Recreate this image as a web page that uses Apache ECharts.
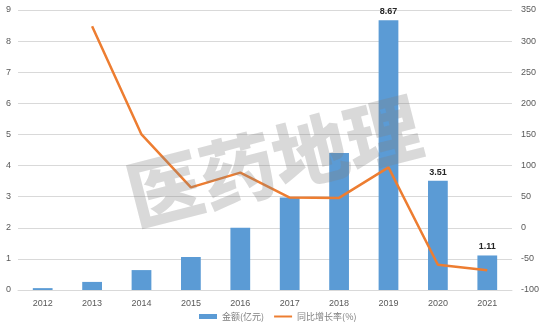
<!DOCTYPE html>
<html>
<head>
<meta charset="utf-8">
<script src="https://cdn.jsdelivr.net/npm/echarts@6/dist/echarts.min.js"></script>
<style>html,body{margin:0;padding:0;background:#fff}#chart{width:542px;height:334px}</style>
</head>
<body>
<div id="chart"></div>
<script>
const years = ['2012','2013','2014','2015','2016','2017','2018','2019','2020','2021'];
const amount = [0.06, 0.26, 0.64, 1.06, 2.0, 2.97, 4.40, 8.67, 3.51, 1.11];
const growth = [null, 324, 150, 65, 88.6, 48.5, 48, 97, -59.5, -68.4];
const labeledYears = ['2019','2020','2021'];

const chart = echarts.init(document.getElementById('chart'), null, {renderer: 'canvas'});
const axisText = {color: '#595959', fontSize: 9, fontFamily: 'Liberation Sans, Arial, sans-serif'};

chart.setOption({
  animation: false,
  grid: {left: 18, right: 30, top: 10, bottom: 44, containLabel: false},
  legend: {
    bottom: 8, left: 194, itemGap: 10, itemHeight: 5, itemWidth: 18,
    textStyle: {color: '#7f7f7f', fontSize: 9, fontFamily: 'Noto Sans CJK SC'},
    data: [
      {name: '金额(亿元)', icon: 'rect'},
      {name: '同比增长率(%)', icon: 'path://M0,0h20v2.2h-20z'}
    ]
  },
  xAxis: {
    type: 'category', data: years,
    axisLine: {lineStyle: {color: '#d9d9d9'}},
    axisTick: {show: false},
    axisLabel: Object.assign({margin: 9}, axisText)
  },
  yAxis: [{
    type: 'value', min: 0, max: 9, interval: 1,
    axisLine: {show: false}, axisTick: {show: false},
    splitLine: {lineStyle: {color: '#d9d9d9'}},
    axisLabel: Object.assign({margin: 7}, axisText)
  }, {
    type: 'value', min: -100, max: 350, interval: 50,
    axisLine: {show: false}, axisTick: {show: false},
    splitLine: {show: false},
    axisLabel: Object.assign({margin: 9}, axisText)
  }],
  series: [{
    name: '金额(亿元)', type: 'bar', data: amount, barWidth: '40%',
    itemStyle: {color: '#5B9BD5'},
    label: {
      show: true, position: 'top', distance: 4,
      color: '#262626', fontSize: 9, fontWeight: 'bold', fontFamily: 'Liberation Sans, Arial, sans-serif',
      formatter: p => labeledYears.includes(p.name) ? p.value.toFixed(2) : ''
    }
  }, {
    name: '同比增长率(%)', type: 'line', yAxisIndex: 1, data: growth,
    symbol: 'none', lineStyle: {color: '#ED7D31', width: 2.5},
    itemStyle: {color: '#ED7D31'}
  }],
  graphic: [{
    type: 'text',
    x: 274, y: 161, rotation: 0.25,
    style: {
      text: '医药地理', font: '900 75px "Noto Sans CJK SC"',
      fill: 'rgba(128,128,128,0.3)', align: 'center', verticalAlign: 'middle'
    },
    z: 100
  }]
});
</script>
</body>
</html>
